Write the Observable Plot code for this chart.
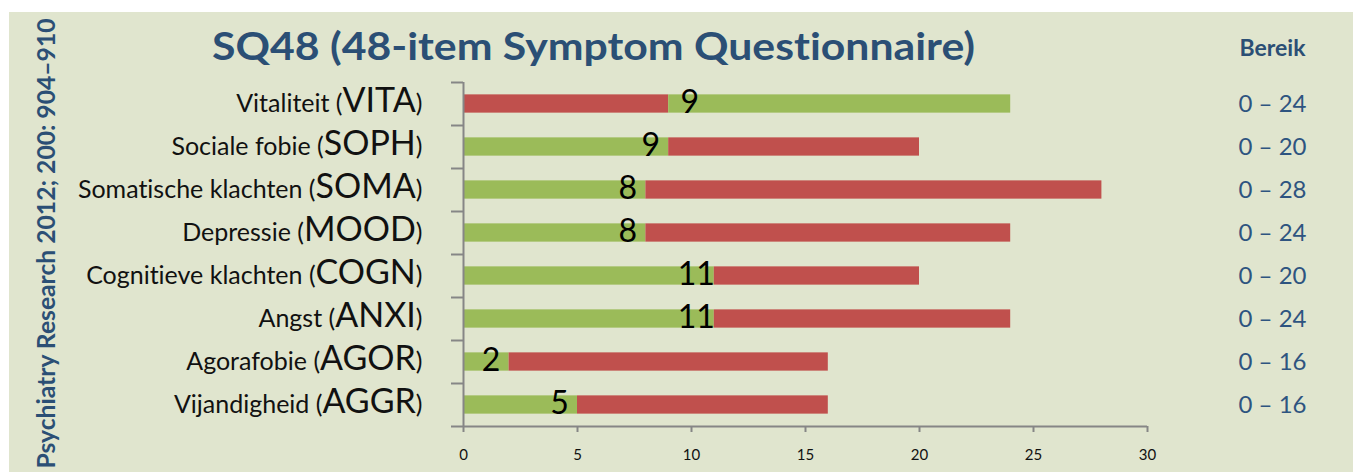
<!DOCTYPE html>
<html><head><meta charset="utf-8">
<script src="https://cdn.jsdelivr.net/npm/d3@7"></script>
<script src="https://cdn.jsdelivr.net/npm/@observablehq/plot@0.6"></script>
<style>
html,body{margin:0;padding:0;background:#ffffff;}
#chart{margin-top:12px;margin-left:9px;width:1344px;height:460px;}
#chart svg{display:block;}
#chart svg text{font-variant-ligatures:none;}
</style></head><body><div id="chart"></div>
<script>
// ---- data ----
const names = ["Vitaliteit","Sociale fobie","Somatische klachten","Depressie","Cognitieve klachten","Angst","Agorafobie","Vijandigheid"];
const abbrs = ["VITA","SOPH","SOMA","MOOD","COGN","ANXI","AGOR","AGGR"];
const scores = [9,9,8,8,11,11,2,5];
const maxima = [24,20,28,24,20,24,16,16];
const reversed = [true,false,false,false,false,false,false,false];
const xTicks = [0,5,10,15,20,25,30];
const titleText = "SQ48 (48-item Symptom Questionnaire)";
const sourceText = "Psychiatry Research 2012; 200: 904–910";
const rangeHeader = "Bereik";

// ---- styling ----
const GREEN = "#9BBB59", RED = "#C0504D", AXIS = "#868686", NAVY = "#2B4F75", RANGE = "#2E5480";
const W = 1344, H = 460, MT = 70, MB = 46, ML = 454, MR = 206;
const half = (H - MT - MB) / abbrs.length / 2;

const rows = abbrs.map((a, i) => ({abbr: a, name: names[i], score: scores[i], max: maxima[i], rev: reversed[i], label: `${names[i]} (${a})`}));
const segs = rows.flatMap(r => [
  {abbr: r.abbr, x1: 0, x2: r.score, c: r.rev ? RED : GREEN},
  {abbr: r.abbr, x1: r.score, x2: r.max, c: r.rev ? GREEN : RED}
]);
const last = abbrs[abbrs.length - 1];

const plot = Plot.plot({
  width: W, height: H,
  marginTop: MT, marginBottom: MB, marginLeft: ML, marginRight: MR,
  style: {background: "#E0E5CE", fontFamily: "Lato, 'Open Sans', sans-serif"},
  x: {domain: [0, 30]},
  y: {domain: abbrs, paddingInner: 0.575, paddingOuter: 0.2875, round: false, axis: null},
  color: {type: "identity"},
  marks: [
    Plot.barX(segs, {y: "abbr", x1: "x1", x2: "x2", fill: "c"}),
    Plot.ruleX([0], {stroke: AXIS, strokeWidth: 2}),
    Plot.ruleY(abbrs, {x1: 0, x2: 0, insetLeft: -12, dy: -half, stroke: AXIS, strokeWidth: 2}),
    Plot.ruleY([last], {x1: 0, x2: 30, insetLeft: -12, dy: half, stroke: AXIS, strokeWidth: 2}),
    Plot.axisX(xTicks, {anchor: "bottom", tickSize: 6, tickPadding: 17, stroke: AXIS, strokeWidth: 2, fill: "#111", fontSize: 15, label: null}),
    Plot.text(rows, {y: "abbr", text: "label", frameAnchor: "left", dx: -41, textAnchor: "end", lineAnchor: "middle", fontSize: 25, fill: "#111"}),
    Plot.text(rows.filter(r => !r.rev), {x: "score", y: "abbr", text: d => String(d.score), dx: -18, dy: -1, textAnchor: "middle", lineAnchor: "middle", fontSize: 32, fill: "#000"}),
    Plot.text(rows.filter(r => r.rev), {x: "score", y: "abbr", text: d => String(d.score), dx: 21, dy: -1, textAnchor: "middle", lineAnchor: "middle", fontSize: 32, fill: "#000"}),
    Plot.text(rows, {y: "abbr", text: d => `0 – ${d.max}`, frameAnchor: "right", dx: 125, textAnchor: "middle", lineAnchor: "middle", fontSize: 24, fill: RANGE}),
    Plot.text([rangeHeader], {frameAnchor: "top-right", dx: 125, dy: -33.5, textAnchor: "middle", lineAnchor: "middle", fontSize: 23, fontWeight: "bold", fill: NAVY}),
    Plot.text([titleText], {frameAnchor: "top", dx: -212, dy: -34.5, textAnchor: "middle", lineAnchor: "middle", fontSize: 38, fontWeight: "bold", fill: NAVY}),
    Plot.text([sourceText], {frameAnchor: "left", rotate: -90, dx: -416, dy: -11, textAnchor: "middle", lineAnchor: "middle", fontSize: 24, fontWeight: "bold", fill: NAVY})
  ]
});
document.getElementById("chart").appendChild(plot);

// ---- post-process text: fit widths, mixed font sizes in category labels ----
const svg = d3.select(plot);
svg.selectAll("text").each(function () {
  const t = this.textContent;
  if (t === titleText) d3.select(this).attr("textLength", 763).attr("lengthAdjust", "spacingAndGlyphs");
  if (t === sourceText) d3.select(this).attr("textLength", 450).attr("lengthAdjust", "spacingAndGlyphs");
  const r = rows.find(r => r.label === t);
  if (r) {
    const el = d3.select(this);
    el.text(null);
    el.append("tspan").text(`${r.name} (`);
    el.append("tspan").attr("font-size", 34).text(r.abbr);
    el.append("tspan").text(")");
  }
});
</script></body></html>
